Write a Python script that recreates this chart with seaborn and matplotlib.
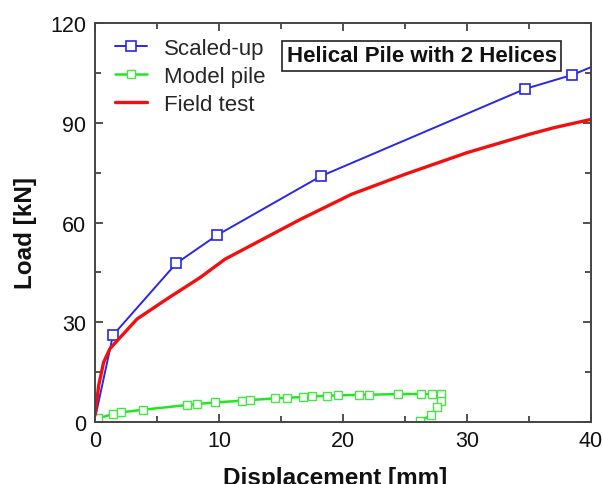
import matplotlib
matplotlib.use("Agg")
import matplotlib.pyplot as plt
import seaborn as sns
import pandas as pd
from matplotlib.ticker import MultipleLocator

sns.set_theme(style="ticks")
plt.rcParams["font.family"] = ["Liberation Sans", "DejaVu Sans"]

# Scaled-up
scaled_x = [0.0, 1.45, 6.55, 9.85, 18.2, 34.7, 38.5, 40.5]
scaled_y = [1.0, 26.1, 47.7, 56.2, 73.9, 100.2, 104.4, 107.5]
# Model pile
model_x = [0.27, 1.43, 2.1, 3.9, 7.4, 8.2, 9.7, 11.85, 12.5, 14.5, 15.5, 16.8, 17.5,
           18.7, 19.6, 21.3, 22.1, 24.4, 26.3, 27.2, 27.9, 27.9, 27.6, 27.1, 26.2]
model_y = [1.1, 2.4, 2.9, 3.7, 5.1, 5.4, 5.9, 6.4, 6.6, 7.1, 7.3, 7.5, 7.7,
           7.9, 8.0, 8.2, 8.2, 8.4, 8.4, 8.4, 8.4, 6.2, 4.4, 2.1, 0.2]
# Field test
field_x = [0.0, 0.3, 0.7, 1.2, 1.8, 3.4, 5.8, 8.5, 10.5, 16.6, 20.7, 25.0, 30.0, 35.0, 37.0, 40.0]
field_y = [2.0, 11.0, 18.0, 22.0, 24.5, 31.0, 37.0, 43.5, 49.0, 61.0, 68.5, 74.5, 81.0, 86.5, 88.5, 91.0]

series_names = ["Scaled-up", "Model pile", "Field test"]
title_text = "Helical Pile with 2 Helices"
x_ticks = [0, 10, 20, 30, 40]
y_ticks = [0, 30, 60, 90, 120]

fig = plt.figure(figsize=(6.03, 4.85), dpi=100)
ax = fig.add_axes([0.1575, 0.1278, 0.8225, 0.8227])

df_s = pd.DataFrame({"x": scaled_x, "y": scaled_y})
df_m = pd.DataFrame({"x": model_x, "y": model_y})
df_f = pd.DataFrame({"x": field_x, "y": field_y})

sns.lineplot(data=df_s, x="x", y="y", ax=ax, sort=False, estimator=None,
             color="#2828E6", lw=1.4, marker="s", markersize=6.5,
             markerfacecolor="white", markeredgecolor="#2828E6", markeredgewidth=1.2,
             markevery=list(range(1, len(scaled_x))), label=series_names[0])
sns.lineplot(data=df_m, x="x", y="y", ax=ax, sort=False, estimator=None,
             color="#22E622", lw=1.8, marker="s", markersize=6,
             markerfacecolor="white", markeredgecolor="#44E644", markeredgewidth=1.0,
             label=series_names[1])
sns.lineplot(data=df_f, x="x", y="y", ax=ax, sort=False, estimator=None,
             color="#F01010", lw=2.4, label=series_names[2])

ax.set_xlim(0, 40)
ax.set_ylim(0, 120)
ax.set_xticks(x_ticks)
ax.set_yticks(y_ticks)
ax.xaxis.set_minor_locator(MultipleLocator(5))
ax.yaxis.set_minor_locator(MultipleLocator(15))
ax.tick_params(which="both", direction="in", top=True, right=True, colors="#333333",
               labelcolor="#111111", width=1.2)
ax.tick_params(which="major", length=6, labelsize=15.5)
ax.tick_params(axis="x", which="major", pad=6)
ax.tick_params(axis="y", which="major", pad=6.5)
ax.tick_params(which="minor", length=4)
for s in ax.spines.values():
    s.set_color("#444444")
    s.set_linewidth(1.4)

ax.set_xlabel("Displacement [mm]", fontsize=17.5, fontweight="bold", color="#111111")
ax.set_ylabel("Load [kN]", fontsize=17.5, fontweight="bold", color="#111111")
ax.xaxis.set_label_coords(0.484, -0.11)
ax.yaxis.set_label_coords(-0.117, 0.475)

leg = ax.legend(loc="upper left", bbox_to_anchor=(0.0, 1.012), frameon=False,
                fontsize=16, handlelength=1.45, handletextpad=0.75, labelspacing=0.3)

ax.text(0.659, 0.9175, title_text, transform=ax.transAxes, ha="center", va="center",
        fontsize=16, fontweight="bold", color="#111111",
        bbox=dict(boxstyle="square,pad=0.2", facecolor="white", edgecolor="#222222", lw=1.2))

fig.savefig("out.png", dpi=100)
